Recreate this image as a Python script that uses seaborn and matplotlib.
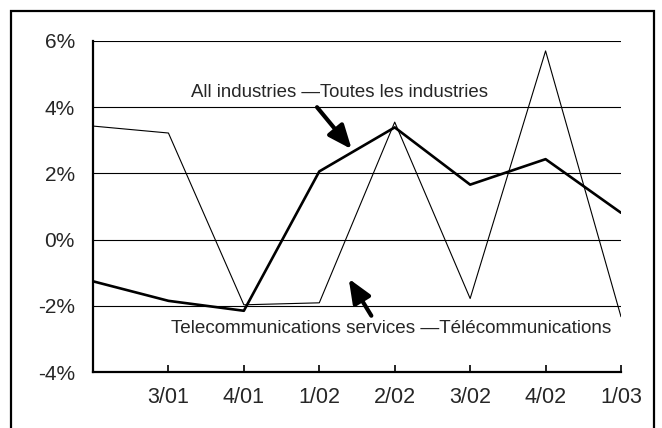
import numpy as np
import pandas as pd
import matplotlib
matplotlib.use('Agg')
import matplotlib.pyplot as plt
import seaborn as sns
from matplotlib.patches import Rectangle

# quarters (first one has no label on the axis)
quarters = ['2/01', '3/01', '4/01', '1/02', '2/02', '3/02', '4/02', '1/03']
tick_labels = ['', '3/01', '4/01', '1/02', '2/02', '3/02', '4/02', '1/03']

# percent change
all_industries = [-1.26, -1.85, -2.15, 2.06, 3.39, 1.66, 2.43, 0.81]
telecom = [3.43, 3.22, -1.97, -1.91, 3.55, -1.78, 5.70, -2.33]

df = pd.DataFrame({'pos': np.arange(len(quarters)),
                   'quarter': quarters,
                   'all': all_industries,
                   'telecom': telecom})

sns.set_theme(style='white')
plt.rcParams['font.family'] = ['Liberation Sans', 'DejaVu Sans']

W, H = 662, 428
fig = plt.figure(figsize=(W / 100, H / 100), dpi=100)
ax = fig.add_axes([93 / W, (H - 372) / H, (621 - 93) / W, (372 - 41) / H])

sns.lineplot(data=df, x='pos', y='telecom', ax=ax, color='black', lw=0.8)
sns.lineplot(data=df, x='pos', y='all', ax=ax, color='black', lw=1.9)

ax.set_xlim(0, 7)
ax.set_ylim(-4, 6)
ax.set_yticks([-4, -2, 0, 2, 4, 6])
ax.set_yticklabels([f'{v}%' for v in [-4, -2, 0, 2, 4, 6]])
ax.set_xticks(df['pos'])
ax.set_xticklabels(tick_labels)
ax.set_xlabel('')
ax.set_ylabel('')

for v in [-2, 0, 2, 4, 6]:
    ax.axhline(v, color='black', lw=0.8, zorder=0)

for s in ['top', 'right']:
    ax.spines[s].set_visible(False)
for s in ['left', 'bottom']:
    ax.spines[s].set_color('black')
    ax.spines[s].set_linewidth(1.6)

ax.tick_params(axis='x', direction='in', length=5, width=1.2, color='black',
               labelsize=15.5, pad=10.5, bottom=True)
ax.tick_params(axis='y', length=0, labelsize=15, pad=13)

ax.text(3.27, 4.45, 'All industries \u2014Toutes les industries',
        ha='center', va='center', fontsize=13.4)
ax.text(3.95, -2.70, 'Telecommunications services \u2014T\u00e9l\u00e9communications',
        ha='center', va='center', fontsize=13.6)

arrow = dict(arrowstyle='-|>,head_length=1.2,head_width=0.5', color='black',
             lw=3, shrinkA=0, shrinkB=0)
ax.annotate('', xy=(3.43, 2.73), xytext=(2.97, 4.0), arrowprops=arrow)
ax.annotate('', xy=(3.39, -1.18), xytext=(3.69, -2.30), arrowprops=arrow)

# outer frame
fig.patches.append(Rectangle((11 / W, -0.05), (654 - 11) / W, 1.05 - 11 / H,
                             transform=fig.transFigure, fill=False,
                             edgecolor='black', lw=1.6))

fig.savefig('out.png', dpi=100)
